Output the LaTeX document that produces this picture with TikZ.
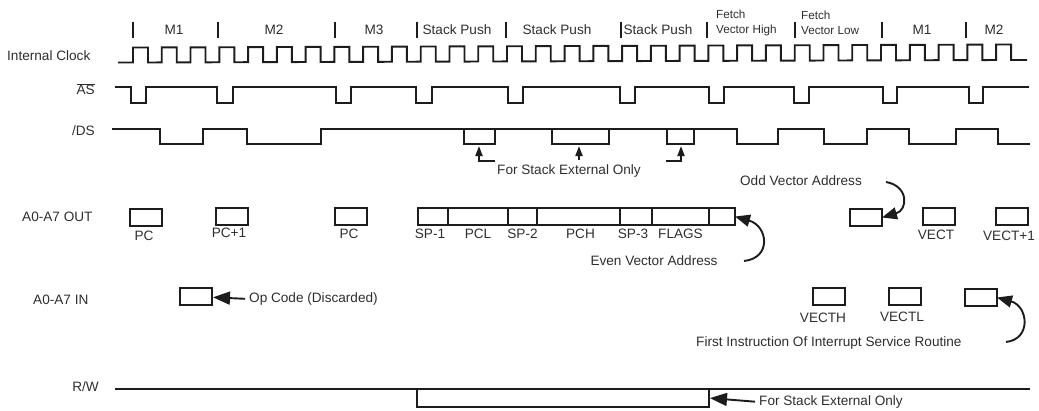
\documentclass[tikz,border=0pt]{standalone}
\usepackage{fontspec}
\setmainfont{Liberation Sans}
\usetikzlibrary{arrows.meta,positioning}
\definecolor{tdink}{HTML}{1C1C1C}
\definecolor{tdtext}{HTML}{2E2E2E}
\tikzset{
  sig/.style={draw=tdink,line width=1.9pt},
  tick/.style={draw=tdink,line width=2.2pt},
  slot/.style={draw=tdink,line width=1.9pt,minimum width=32pt,minimum height=17pt,
               inner sep=0pt,outer sep=0pt},
  lab/.style={font=\fontsize{13.6}{15}\selectfont,text=tdtext,inner sep=0pt},
  smalllab/.style={font=\fontsize{11.7}{13}\selectfont,text=tdtext,inner sep=0pt,anchor=west},
  ar/.style={-{Triangle[length=17pt,width=13pt]},line width=1.9pt,tdink,shorten >=1pt,shorten <=4pt},
  arc/.style={-{Triangle[length=15pt,width=12pt]},line width=1.9pt,tdink},
  aru/.style={-{Triangle[length=10pt,width=7pt]},line width=1.9pt,tdink},
}
\begin{document}
\begin{tikzpicture}[x=1pt,y=-1pt,node distance=3pt]
      \useasboundingbox (0,0) rectangle (1039,410);
      % signal names
      \node[lab,anchor=west] (clk) at (7,56) {Internal Clock};
      \node[lab,anchor=east] (as) at (95,89) {$\overline{\mbox{AS}}$};
      \node[lab,anchor=east] (ds) at (95,131) {/DS};
      \node[lab,anchor=west] (out) at (22,217) {A0-A7 OUT};
      \node[lab,anchor=west] (in) at (33,300) {A0-A7 IN};
      \node[lab,anchor=east] (rw) at (99,387) {R/W};
      % cycle marks and names
      \foreach \x in {133,218,335,417,506,621,707,795,882,966}
        \draw[tick] (\x,21.5) -- (\x,37.5);
      \foreach \x/\t in {174/M1,274/M2,374/M3,457/Stack Push,557/Stack Push,658/Stack Push,922/M1,994/M2}
        \node[lab] at (\x,29.5) {\t};
      \node[smalllab] (fh) at (716,14) {Fetch};
      \node[smalllab] at (716,30) {Vector High};
      \node[smalllab] (fl) at (801,15) {Fetch};
      \node[smalllab] at (801,31) {Vector Low};
      % waveforms
      \draw[sig] (118,62.5) \foreach \i in {0,...,30}
        { -- ({133+28.77*\i},{62.5-2.5*\i/30}) -- ({133+28.77*\i},{47.5-3*\i/30})
          -- ({148+28.77*\i},{47.5-3*\i/30}) -- ({148+28.77*\i},{62.5-2.5*\i/30}) } -- (1027,60);
      \draw[sig] (115,87) \foreach \a/\b in {131/146,217/233,336/351,416/432,508/523,620/635,709/724,794/809,883/897,969/983}
        { -- (\a,87) -- (\a,103) -- (\b,103) -- (\b,87) } -- (1029,87);
      \draw[sig] (112,129) \foreach \a/\b in {160/203,247/321,737/778,824/867,909/956}
        { -- (\a,129) -- (\a,144) -- (\b,144) -- (\b,129) } -- (998,129) -- (998,144) -- (1030,144);
      \foreach \a/\b in {464/495,552/609,667/694}
        \draw[sig] (\a,129) -- (\a,144) -- (\b,144) -- (\b,129);
      % stack external notes on /DS
      \node[lab] (dsnote) at (569,171) {For Stack External Only};
      \coordinate (dip1) at (479,146);
      \coordinate (dip2) at (579,146);
      \coordinate (dip3) at (681,146);
      \coordinate (hook1) at (494.5,161);
      \coordinate (foot2) at (579,160);
      \coordinate (hook3) at (666,161);
      \draw[aru] (hook1) -| (dip1);
      \draw[aru] (foot2) -- (dip2);
      \draw[aru] (hook3) -| (dip3);
      % address out
      \node[slot] (pca) at (146,217.5) {};
      \node[lab] at (144,236) {PC};
      \node[slot] (pcb) at (232,216.5) {};
      \node[lab] at (229,233) {PC+1};
      \node[slot] (pcc) at (351,216.5) {};
      \node[lab] at (349,234) {PC};
      \node[slot,minimum width=30pt] (sp1) at (433,216.5) {};
      \node[slot,minimum width=60pt,right=0pt of sp1] (pcl) {};
      \node[slot,minimum width=29pt,right=0pt of pcl] (sp2) {};
      \node[slot,minimum width=83pt,right=0pt of sp2] (pch) {};
      \node[slot,minimum width=32pt,right=0pt of pch] (sp3) {};
      \node[slot,minimum width=57pt,right=0pt of sp3] (flags) {};
      \node[slot,minimum width=26pt,right=0pt of flags] (evena) {};
      \node[lab,below=4pt of sp1,xshift=-3pt] {SP-1};
      \node[lab,below=4pt of pcl] {PCL};
      \node[lab,below=4pt of sp2] {SP-2};
      \node[lab,below=4pt of pch,xshift=2pt] {PCH};
      \node[lab,below=4pt of sp3,xshift=-3pt] {SP-3};
      \node[lab,below=4pt of flags] {FLAGS};
      \node[lab] (even) at (654,261) {Even Vector Address};
      \coordinate (evenstart) at (744,261);
      \draw[arc] (evenstart) .. controls (772,258) and (768,226) .. (evena.east);
      \node[slot] (odda) at (866,217.5) {};
      \node[lab] (odd) at (801,181) {Odd Vector Address};
      \coordinate (oddstart) at (886,182);
      \draw[arc] (oddstart) .. controls (909,186) and (908,210) .. (odda.east);
      \node[slot] (vect) at (939,216.5) {};
      \node[lab] at (936,235) {VECT};
      \node[slot] (vectp) at (1012,216.5) {};
      \node[lab] at (1009,236) {VECT+1};
      % address in
      \node[slot] (opc) at (196,296.5) {};
      \node[lab,anchor=west] (opcode) at (249,299) {Op Code (Discarded)};
      \draw[ar] (opcode.west) -- (opc);
      \node[slot] (vecth) at (829,296.5) {};
      \node[lab] at (823,318) {VECTH};
      \node[slot] (vectl) at (905,296.5) {};
      \node[lab] at (902,317) {VECTL};
      \node[slot] (first) at (981,297.5) {};
      \node[lab,anchor=west] (firstnote) at (696,343) {First Instruction Of Interrupt Service Routine};
      \coordinate (firststart) at (1006,342);
      \draw[arc] (firststart) .. controls (1032,339) and (1028,306) .. (first.east);
      % read / write
      \draw[sig] (115,389) -- (1030,389);
      \node[slot,minimum width=292pt,minimum height=18pt] (rwlow) at (563,398) {};
      \node[lab,anchor=west] (rwnote) at (759,402) {For Stack External Only};
      \draw[ar] (rwnote.west) -- (rwlow.east);
    \end{tikzpicture}
\end{document}
